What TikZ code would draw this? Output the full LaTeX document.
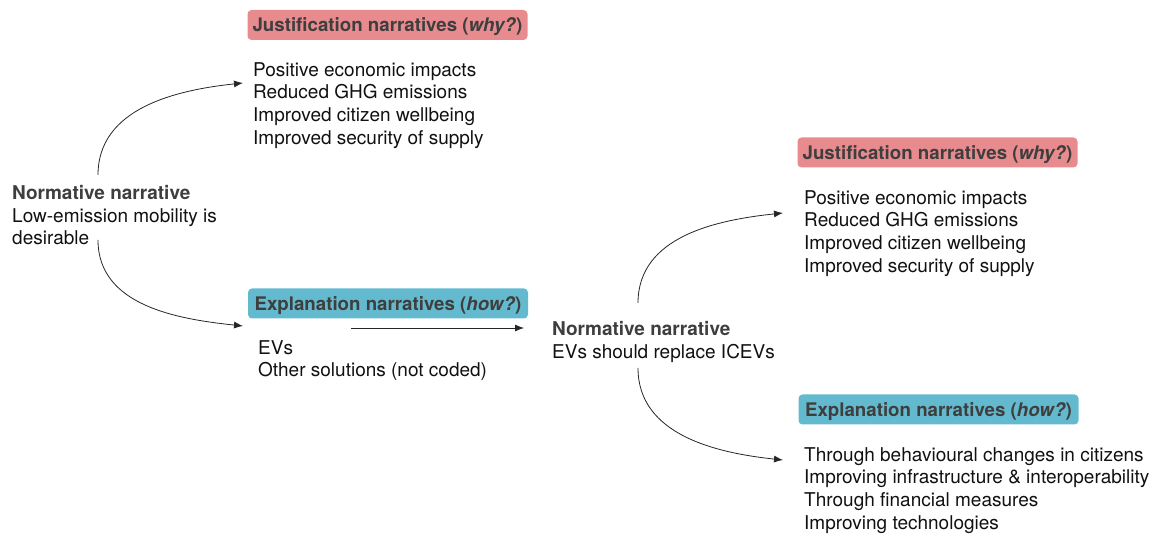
\documentclass[tikz,border=0pt]{standalone}
\usepackage{fontspec}
\setmainfont{TeX Gyre Heros}
\usetikzlibrary{arrows.meta}
\definecolor{whyfill}{HTML}{E88B8F}
\definecolor{howfill}{HTML}{63BACF}
\definecolor{headtext}{HTML}{3E3E3E}
\definecolor{bodytext}{HTML}{111111}
\tikzset{
  bodyfont/.style={font=\fontsize{19}{22.7}\selectfont},
  headbox/.style={rounded corners=4pt, minimum width=280pt, minimum height=30pt,
    inner sep=0pt, text height=15pt, text depth=1pt, text=headtext,
    font=\fontsize{18.7}{22}\selectfont\bfseries},
  whybox/.style={headbox, fill=whyfill},
  howbox/.style={headbox, fill=howfill},
  itemlist/.style={bodyfont, align=left, anchor=north west, inner sep=0pt, text=bodytext},
  link/.style={draw=black!85, line width=0.8pt, -{Latex[length=9pt,width=7pt]}},
}
\newcommand{\hd}[1]{\textcolor{headtext}{\bfseries #1}}
\begin{document}
\begin{tikzpicture}[x=1pt,y=1pt]
\useasboundingbox (0,0) rectangle (1157,534);

% first level: low-emission mobility
\node[itemlist] (norm1) at (12,349)
  {\hd{Normative narrative}\\Low-emission mobility is\\desirable};
\node[whybox] (why1) at (387.5,509) {Justification narratives (\textit{why?})};
\node[itemlist] (whylist1) at (253,472)
  {Positive economic impacts\\Reduced GHG emissions\\Improved citizen wellbeing\\Improved security of supply};
\node[howbox] (how1) at (388,230.5) {Explanation narratives (\textit{how?})};
\node[itemlist] (howlist1) at (258,194)
  {EVs\\Other solutions (not coded)};

% second level: EVs replacing ICEVs
\node[itemlist] (norm2) at (552,213)
  {\hd{Normative narrative}\\EVs should replace ICEVs};
\node[whybox] (why2) at (937.5,381.5) {Justification narratives (\textit{why?})};
\node[itemlist] (whylist2) at (804,344)
  {Positive economic impacts\\Reduced GHG emissions\\Improved citizen wellbeing\\Improved security of supply};
\node[howbox] (how2) at (938.5,124.5) {Explanation narratives (\textit{how?})};
\node[itemlist] (howlist2) at (804,87)
  {Through behavioural changes in citizens\\Improving infrastructure \& interoperability\\Through financial measures\\Improving technologies};

% connector end points
\coordinate (n1up) at (98,359);
\coordinate (n1down) at (98,294);
\coordinate (w1in) at (243,451);
\coordinate (h1in) at (243,208);
\coordinate (h1out) at (351,206);
\coordinate (n2in) at (524,206);
\coordinate (n2up) at (638,231);
\coordinate (n2down) at (638,166);
\coordinate (w2in) at (783,321);
\coordinate (h2in) at (783,74);

\draw[link] (n1up) to[out=90,in=186] (w1in);
\draw[link] (n1down) to[out=-90,in=174] (h1in);
\draw[link] (h1out) -- (n2in);
\draw[link] (n2up) to[out=90,in=186] (w2in);
\draw[link] (n2down) to[out=-90,in=174] (h2in);
\end{tikzpicture}
\end{document}
